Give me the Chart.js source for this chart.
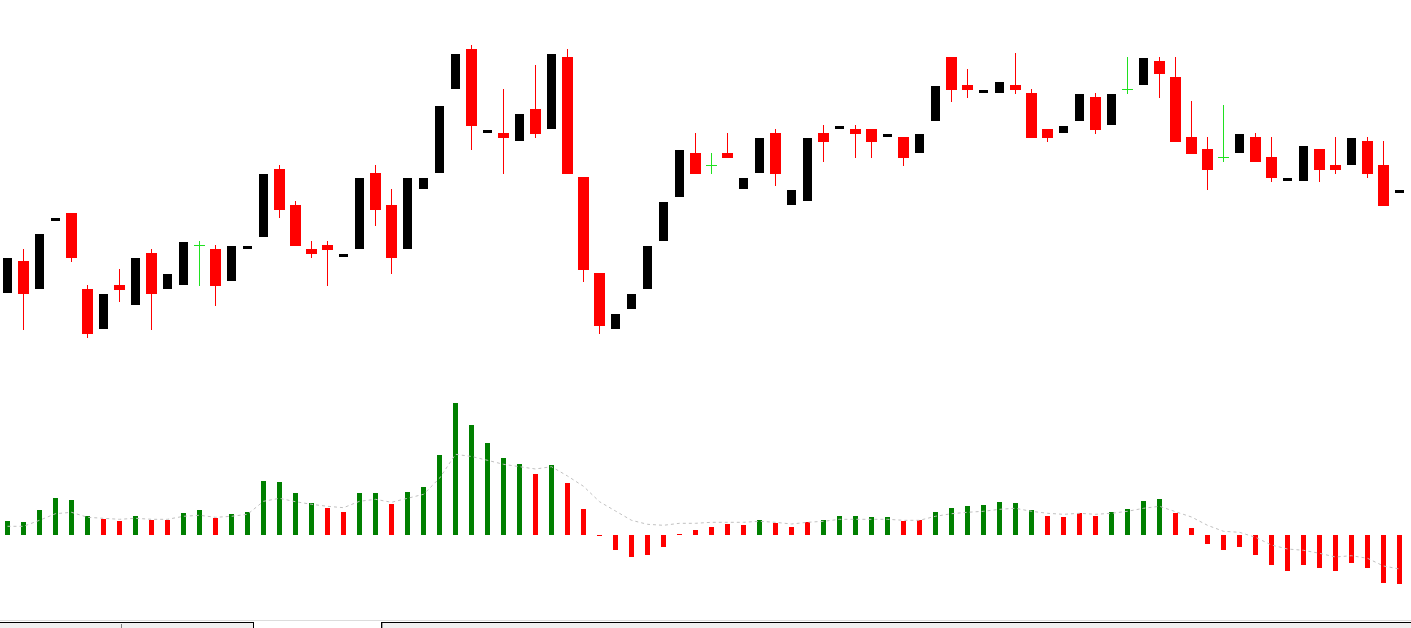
<!DOCTYPE html>
<html>
<head>
<meta charset="utf-8">
<script src="https://cdn.jsdelivr.net/npm/chart.js@4"></script>
<style>
  html, body { margin: 0; padding: 0; background: #fff; overflow: hidden; }
  #wrap { position: relative; width: 1411px; height: 628px; }
  #c { position: absolute; left: 0; top: 0; }
  .strip { position: absolute; }
</style>
</head>
<body>
<div id="wrap">
  <canvas id="c" width="1411" height="620"></canvas>
  <!-- terminal tabs along the bottom edge -->
  <div class="strip" style="left:0;top:620px;width:1411px;height:1px;background:#dcdcdc"></div>
  <div class="strip" style="left:0;top:622px;width:253px;height:5px;background:#f0f0f0;border-top:1px solid #000;border-right:1px solid #000"></div>
  <div class="strip" style="left:121px;top:624px;width:1px;height:4px;background:#808080"></div>
  <div class="strip" style="left:381px;top:622px;width:1029px;height:5px;background:#f0f0f0;border-top:1px solid #000;border-left:1px solid #000"></div>
  <div class="strip" style="left:382px;top:623px;width:1px;height:5px;background:#a0a0a0"></div>
</div>
<script>
// OHLC, one entry per bar (oldest first)
const open = [
  1.3107, 1.3139, 1.3111, 1.3179, 1.3187, 1.3111, 1.3071, 1.3115, 1.3095, 1.3147,
  1.3111, 1.3115, 1.31545, 1.3151, 1.3119, 1.3151, 1.3163, 1.3231, 1.3195, 1.3151,
  1.3155, 1.3143, 1.3151, 1.3227, 1.3195, 1.3151, 1.3211, 1.3227, 1.3311, 1.3351,
  1.3267, 1.3267, 1.3259, 1.3291, 1.3271, 1.3343, 1.3223, 1.3127, 1.3071, 1.3091,
  1.3111, 1.3159, 1.3203, 1.3247, 1.32345, 1.3247, 1.3211, 1.3227, 1.3267, 1.3195,
  1.3199, 1.3267, 1.3271, 1.3271, 1.3271, 1.3263, 1.3263, 1.3247, 1.3279, 1.3343,
  1.3315, 1.3307, 1.3307, 1.3315, 1.3307, 1.3271, 1.3267, 1.3279, 1.3303, 1.3275,
  1.33105, 1.3315, 1.3339, 1.3323, 1.3263, 1.3251, 1.32425, 1.3247, 1.3263, 1.3243,
  1.3219, 1.3219, 1.3251, 1.3235, 1.3235, 1.3259, 1.3235, 1.3207
];
const high = [
  1.3142, 1.3151, 1.3166, 1.3182, 1.3187, 1.3115, 1.3106, 1.3131, 1.3142, 1.3151,
  1.3126, 1.3158, 1.3159, 1.3155, 1.3154, 1.3154, 1.3226, 1.3235, 1.3199, 1.3159,
  1.3159, 1.3146, 1.3222, 1.3235, 1.3211, 1.3222, 1.3222, 1.3294, 1.3346, 1.3355,
  1.3270, 1.3311, 1.3286, 1.3335, 1.3346, 1.3351, 1.3223, 1.3127, 1.3086, 1.3106,
  1.3154, 1.3198, 1.3250, 1.3267, 1.3247, 1.3267, 1.3222, 1.3262, 1.3271, 1.3210,
  1.3262, 1.3275, 1.3274, 1.3275, 1.3271, 1.3266, 1.3263, 1.3266, 1.3314, 1.3343,
  1.3331, 1.3310, 1.3318, 1.3347, 1.3311, 1.3271, 1.3274, 1.3306, 1.3307, 1.3306,
  1.3343, 1.3342, 1.3343, 1.3343, 1.3299, 1.3263, 1.3295, 1.3266, 1.3267, 1.3263,
  1.3222, 1.3254, 1.3251, 1.3263, 1.3262, 1.3263, 1.3259, 1.3210
];
const low = [
  1.3107, 1.3070, 1.3111, 1.3179, 1.3138, 1.3062, 1.3071, 1.3098, 1.3095, 1.3070,
  1.3111, 1.3115, 1.3114, 1.3094, 1.3119, 1.3151, 1.3163, 1.3182, 1.3154, 1.3142,
  1.3114, 1.3143, 1.3151, 1.3174, 1.3126, 1.3151, 1.3211, 1.3227, 1.3311, 1.3250,
  1.3267, 1.3226, 1.3259, 1.3262, 1.3271, 1.3226, 1.3118, 1.3066, 1.3071, 1.3091,
  1.3111, 1.3159, 1.3203, 1.3226, 1.3226, 1.3242, 1.3211, 1.3227, 1.3214, 1.3195,
  1.3199, 1.3238, 1.3271, 1.3242, 1.3242, 1.3263, 1.3234, 1.3247, 1.3279, 1.3298,
  1.3302, 1.3307, 1.3307, 1.3306, 1.3262, 1.3258, 1.3267, 1.3279, 1.3266, 1.3275,
  1.3306, 1.3315, 1.3302, 1.3258, 1.3246, 1.3210, 1.3238, 1.3247, 1.3238, 1.3218,
  1.3219, 1.3219, 1.3218, 1.3226, 1.3235, 1.3222, 1.3194, 1.3207
];
const close = [
  1.3142, 1.3106, 1.3166, 1.3182, 1.3142, 1.3066, 1.3106, 1.3110, 1.3142, 1.3106,
  1.3126, 1.3158, 1.31545, 1.3114, 1.3154, 1.3154, 1.3226, 1.3190, 1.3154, 1.3146,
  1.3150, 1.3146, 1.3222, 1.3190, 1.3142, 1.3222, 1.3222, 1.3294, 1.3346, 1.3274,
  1.3270, 1.3262, 1.3286, 1.3266, 1.3346, 1.3226, 1.3130, 1.3074, 1.3086, 1.3106,
  1.3154, 1.3198, 1.3250, 1.3226, 1.32345, 1.3242, 1.3222, 1.3262, 1.3226, 1.3210,
  1.3262, 1.3258, 1.3274, 1.3266, 1.3258, 1.3266, 1.3242, 1.3266, 1.3314, 1.3310,
  1.3310, 1.3310, 1.3318, 1.3310, 1.3262, 1.3262, 1.3274, 1.3306, 1.3270, 1.3306,
  1.33105, 1.3342, 1.3326, 1.3258, 1.3246, 1.3230, 1.32425, 1.3266, 1.3238, 1.3222,
  1.3222, 1.3254, 1.3230, 1.3230, 1.3262, 1.3226, 1.3194, 1.3210
];

// MACD histogram and its signal line
const macd = [
  0.0014, 0.0013, 0.0025, 0.0037, 0.0035, 0.0019, 0.0016, 0.0014, 0.0019, 0.0015,
  0.0015, 0.0022, 0.0025, 0.0017, 0.0021, 0.0023, 0.0054, 0.0053, 0.0042, 0.0032,
  0.0027, 0.0023, 0.0042, 0.0042, 0.0031, 0.0043, 0.0048, 0.0080, 0.0132, 0.0110,
  0.0092, 0.0077, 0.0071, 0.0061, 0.0070, 0.0052, 0.0026, -0.0001, -0.0015, -0.0022,
  -0.0020, -0.0012, 0.0001, 0.0005, 0.0008, 0.0011, 0.0010, 0.0015, 0.0012, 0.0008,
  0.0013, 0.0015, 0.0019, 0.0019, 0.0018, 0.0018, 0.0014, 0.0015, 0.0023, 0.0027,
  0.0029, 0.0030, 0.0033, 0.0032, 0.0025, 0.0019, 0.0018, 0.0022, 0.0019, 0.0023,
  0.0026, 0.0034, 0.0036, 0.0022, 0.0007, -0.0009, -0.0015, -0.0012, -0.0020, -0.0030,
  -0.0036, -0.0030, -0.0033, -0.0036, -0.0028, -0.0033, -0.0048, -0.0049
];
// G = green bar, R = red bar, as coloured in the picture
const macdColor = 'GGGGGGRRGR' + 'RGGRGGGGGG' + 'RRGGRGGGGG' + 'GGGRGRRRRR' + 'RRRRRRRGRR' +
                  'RGGGGGRRGG' + 'GGGGGRRRRG' + 'GGGRRRRRRR' + 'RRRRRRRR';
const signal = [
  0.00087, 0.00087, 0.00147, 0.00213, 0.00227, 0.00177, 0.00167, 0.00157, 0.00167, 0.00157,
  0.00157, 0.00187, 0.00197, 0.00177, 0.00187, 0.00207, 0.00337, 0.00367, 0.00333, 0.00307,
  0.00287, 0.00273, 0.00337, 0.00357, 0.00327, 0.00367, 0.00407, 0.00567, 0.00807, 0.00785,
  0.00747, 0.00707, 0.00683, 0.00660, 0.00683, 0.00590, 0.00487, 0.00333, 0.00240, 0.00147,
  0.00107, 0.00097, 0.00117, 0.00117, 0.00127, 0.00127, 0.00127, 0.00137, 0.00127, 0.00110,
  0.00127, 0.00137, 0.00157, 0.00157, 0.00157, 0.00157, 0.00147, 0.00147, 0.00187, 0.00213,
  0.00227, 0.00237, 0.00257, 0.00267, 0.00237, 0.00217, 0.00207, 0.00217, 0.00207, 0.00217,
  0.00237, 0.00267, 0.00287, 0.00233, 0.00180, 0.00097, 0.00037, 0.00027, -0.00023, -0.00100,
  -0.00140, -0.00153, -0.00183, -0.00220, -0.00207, -0.00233, -0.00310, -0.00340
];

const BULL = '#000000';
const BEAR = '#ff0000';
const DOJI = '#20e020';
const UP = '#008000';

const kind = open.map((o, i) => close[i] > o ? 'bull' : close[i] < o ? 'bear' : 'doji');
const colorOf = { bull: BULL, bear: BEAR, doji: DOJI };

// build the chart datasets from the arrays above
const wicks = open.map((o, i) => ({ x: i, y: [low[i], high[i]] }));
const bullBodies = open.map((o, i) => ({ x: i, y: [o, close[i]] })).filter((p, i) => kind[i] === 'bull');
const bearBodies = open.map((o, i) => ({ x: i, y: [o, close[i]] })).filter((p, i) => kind[i] === 'bear');
const dojis = open.map((o, i) => ({ x: i, y: o })).filter((p, i) => kind[i] === 'doji');
const macdUp = macd.map((v, i) => ({ x: i, y: v })).filter((p, i) => macdColor[i] === 'G');
const macdDown = macd.map((v, i) => ({ x: i, y: v })).filter((p, i) => macdColor[i] === 'R');
const signalPts = signal.map((v, i) => ({ x: i, y: v }));

const barBase = { type: 'bar', grouped: false, borderWidth: 0, inflateAmount: 0 };

new Chart(document.getElementById('c').getContext('2d'), {
  type: 'bar',
  data: {
    datasets: [
      { ...barBase, label: 'wick', data: wicks, yAxisID: 'y', barThickness: 1,
        backgroundColor: kind.map(k => colorOf[k]), order: 5 },
      { ...barBase, label: 'bull', data: bullBodies, yAxisID: 'y', barThickness: 9,
        backgroundColor: BULL, order: 4 },
      { ...barBase, label: 'bear', data: bearBodies, yAxisID: 'y', barThickness: 11,
        backgroundColor: BEAR, order: 4 },
      { type: 'line', label: 'doji', data: dojis, yAxisID: 'y', showLine: false,
        pointStyle: 'line', pointRadius: 5.5, pointBorderWidth: 1,
        pointBorderColor: DOJI, pointBackgroundColor: DOJI, order: 3 },
      { ...barBase, label: 'macd up', data: macdUp, yAxisID: 'y2', barThickness: 5,
        backgroundColor: UP, order: 2 },
      { ...barBase, label: 'macd down', data: macdDown, yAxisID: 'y2', barThickness: 5,
        backgroundColor: BEAR, order: 2 },
      { type: 'line', label: 'signal', data: signalPts, yAxisID: 'y2',
        borderColor: '#c0c0c0', borderWidth: 1, borderDash: [3, 3],
        pointRadius: 0, tension: 0, order: 1 }
    ]
  },
  options: {
    responsive: false,
    animation: false,
    events: [],
    // no automatic padding: the plot area must fill the whole canvas
    layout: { padding: 0, autoPadding: false },
    plugins: { legend: { display: false }, tooltip: { enabled: false } },
    scales: {
      // 16 px per bar, first bar centred at x = 7.5
      x: { type: 'linear', min: -0.46875, max: 87.71875, offset: false, display: false },
      y: { type: 'linear', min: 1.278, max: 1.34, display: false },
      y2: { type: 'linear', min: -0.0085, max: 0.0535, display: false }
    }
  }
});
</script>
</body>
</html>
